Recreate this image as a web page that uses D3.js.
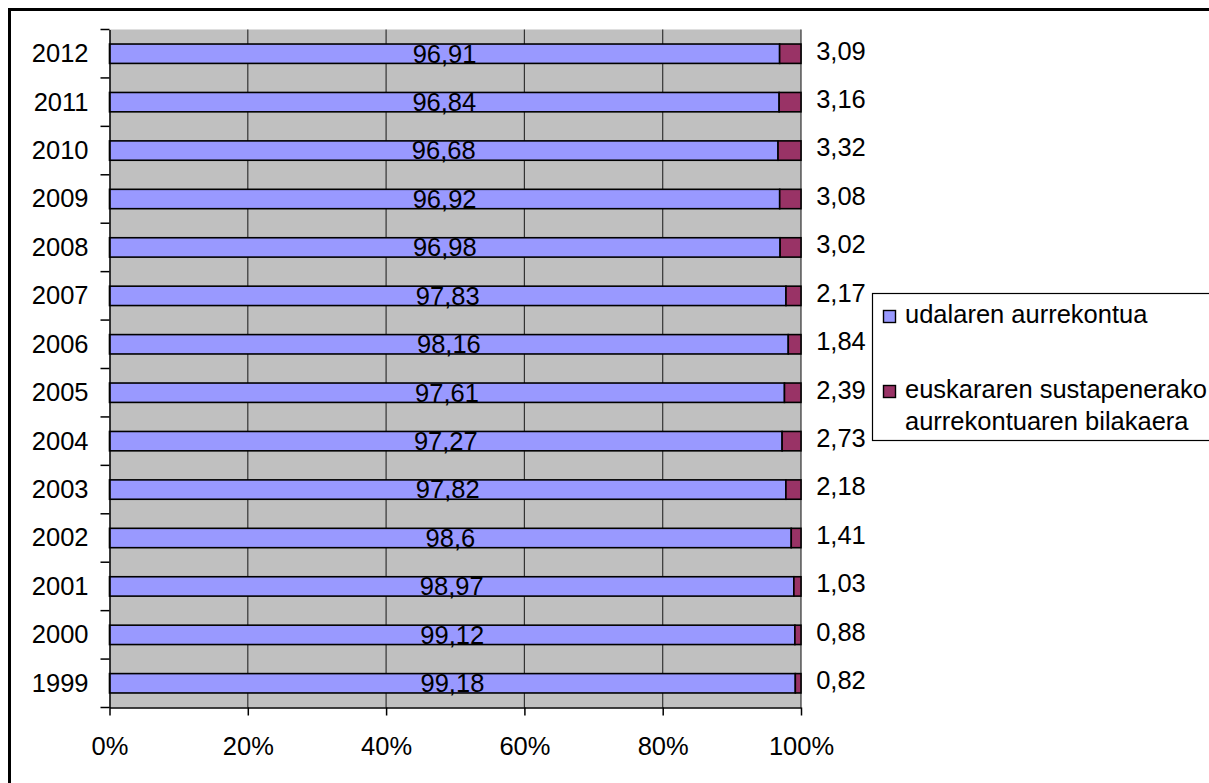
<!DOCTYPE html>
<html>
<head>
<meta charset="utf-8">
<script src="https://cdn.jsdelivr.net/npm/d3@7"></script>
<style>
  html, body { margin: 0; padding: 0; background: #fff; overflow: hidden; }
  svg { display: block; font-family: "Liberation Sans", Arial, sans-serif; }
</style>
</head>
<body>
<svg id="chart" width="1209" height="783"></svg>
<script>
// Years, bottom to top
const years = ["1999", "2000", "2001", "2002", "2003", "2004", "2005",
               "2006", "2007", "2008", "2009", "2010", "2011", "2012"];
// Municipal budget share (%)
const udalaren = [99.18, 99.12, 98.97, 98.6, 97.82, 97.27, 97.61,
                  98.16, 97.83, 96.98, 96.92, 96.68, 96.84, 96.91];
// Basque language promotion budget share (%)
const euskararen = [0.82, 0.88, 1.03, 1.41, 2.18, 2.73, 2.39,
                    1.84, 2.17, 3.02, 3.08, 3.32, 3.16, 3.09];
const seriesNames = ["udalaren aurrekontua", "euskararen sustapenerako\naurrekontuaren bilakaera"];
const xTicks = [0, 0.2, 0.4, 0.6, 0.8, 1];

const colors = ["#9999FF", "#993366"];
const fontSize = 25.5;

const rows = years.map((y, i) => ({ year: y, a: udalaren[i], b: euskararen[i] }));

const svg = d3.select("#chart");

// Outer chart frame (runs off the right and bottom edges)
svg.append("rect")
  .attr("x", 9.5).attr("y", 9.5)
  .attr("width", 1300).attr("height", 900)
  .attr("fill", "none").attr("stroke", "#000").attr("stroke-width", 3);

const plot = { left: 109.5, right: 801, top: 29.5, bottom: 707.5 };

const x = d3.scaleLinear().domain([0, 1]).range([plot.left, plot.right]);
const y = d3.scaleBand()
  .domain(years.slice().reverse())
  .range([plot.top, plot.bottom])
  .paddingInner(0.6)
  .paddingOuter(0.3);

// Plot background
svg.append("rect")
  .attr("x", plot.left).attr("y", plot.top)
  .attr("width", plot.right - plot.left).attr("height", plot.bottom - plot.top)
  .attr("fill", "#C0C0C0");

// Vertical gridlines
svg.append("g").selectAll("line")
  .data(xTicks.slice(1))
  .join("line")
  .attr("x1", d => x(d)).attr("x2", d => x(d))
  .attr("y1", plot.top).attr("y2", plot.bottom)
  .attr("stroke", "#333").attr("stroke-width", 1.2);

// 100% stacked bars
const stack = d3.stack().keys(["a", "b"]).offset(d3.stackOffsetExpand);
const layers = stack(rows);

svg.append("g").selectAll("g")
  .data(layers)
  .join("g")
  .attr("fill", (d, i) => colors[i])
  .selectAll("rect")
  .data(d => d)
  .join("rect")
  .attr("x", d => x(d[0]))
  .attr("width", d => x(d[1]) - x(d[0]))
  .attr("y", d => y(d.data.year))
  .attr("height", y.bandwidth())
  .attr("stroke", "#000")
  .attr("stroke-width", 1.6);

const fmt = v => String(v).replace(".", ",");

// Labels inside the blue segment
svg.append("g").selectAll("text")
  .data(layers[0])
  .join("text")
  .attr("x", d => (x(d[0]) + x(d[1])) / 2)
  .attr("y", d => y(d.data.year) + y.bandwidth() / 2)
  .attr("dy", "0.35em")
  .attr("text-anchor", "middle")
  .attr("font-size", fontSize)
  .attr("fill", "#000")
  .text(d => fmt(d.data.a));

// Labels to the right of the bars
svg.append("g").selectAll("text")
  .data(layers[1])
  .join("text")
  .attr("x", 841)
  .attr("y", d => y(d.data.year) + y.bandwidth() / 2 - 3)
  .attr("dy", "0.35em")
  .attr("text-anchor", "middle")
  .attr("font-size", fontSize)
  .attr("fill", "#000")
  .text(d => fmt(d.data.b));

// X axis
const xAxis = svg.append("g")
  .attr("transform", `translate(0,${plot.bottom})`)
  .call(d3.axisBottom(x).tickValues(xTicks).tickFormat(d3.format(".0%"))
    .tickSize(8).tickPadding(21).tickSizeOuter(0));
xAxis.select(".domain").attr("stroke", "#000").attr("stroke-width", 1.5);
xAxis.selectAll(".tick line").attr("stroke", "#000").attr("stroke-width", 1.5);
xAxis.selectAll("text").attr("font-size", fontSize).attr("fill", "#000")
  .attr("font-family", "Liberation Sans, Arial, sans-serif");

// Y axis: labels at band centres, ticks at band boundaries
const yAxis = svg.append("g")
  .attr("transform", `translate(${plot.left},0)`)
  .call(d3.axisLeft(y).tickSize(0).tickPadding(21).tickSizeOuter(0));
yAxis.select(".domain").attr("stroke", "#000").attr("stroke-width", 1.5);
yAxis.selectAll("text").attr("font-size", fontSize).attr("fill", "#000")
  .attr("dy", "0.33em")
  .attr("font-family", "Liberation Sans, Arial, sans-serif");

const boundaries = y.domain().map(d => y(d) - y.step() * y.paddingOuter())
  .concat([plot.bottom]);
svg.append("g").selectAll("line")
  .data(boundaries)
  .join("line")
  .attr("x1", plot.left - 9).attr("x2", plot.left)
  .attr("y1", d => d).attr("y2", d => d)
  .attr("stroke", "#000").attr("stroke-width", 1.5);

// Legend
const legend = svg.append("g");
legend.append("rect")
  .attr("x", 872.5).attr("y", 293.5)
  .attr("width", 400).attr("height", 147)
  .attr("fill", "#fff").attr("stroke", "#000").attr("stroke-width", 1.2);

const legendBaselines = [323, 398];
seriesNames.forEach((name, i) => {
  const base = legendBaselines[i];
  legend.append("rect")
    .attr("x", 883.5).attr("y", base - 12.5)
    .attr("width", 12).attr("height", 12)
    .attr("fill", colors[i]).attr("stroke", "#000").attr("stroke-width", 1.4);
  const t = legend.append("text")
    .attr("x", 905).attr("y", base)
    .attr("font-size", fontSize).attr("fill", "#000");
  name.split("\n").forEach((line, j) => {
    t.append("tspan").attr("x", 905).attr("dy", j === 0 ? 0 : 32).text(line);
  });
});
</script>
</body>
</html>
